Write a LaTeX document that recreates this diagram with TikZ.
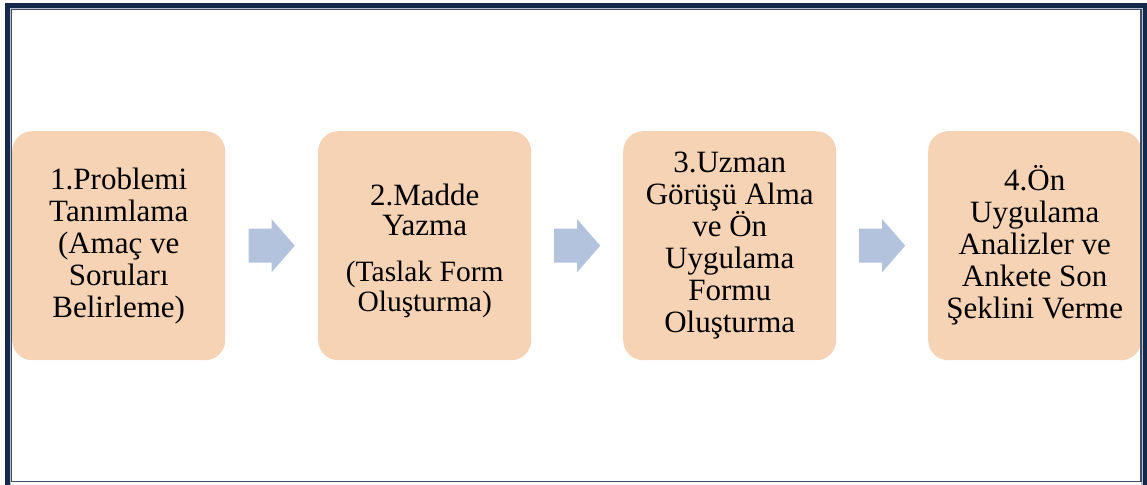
\documentclass[tikz,border=0pt]{standalone}
\usepackage{fontspec}
\setmainfont{Liberation Serif}
\usetikzlibrary{calc}
\definecolor{boxfill}{HTML}{F5D3B4}
\definecolor{arrfill}{HTML}{B3C3DD}
\definecolor{navy}{HTML}{17294A}
\definecolor{navyline}{HTML}{3C4C66}
\definecolor{gapgray}{HTML}{B9C0CA}
\tikzset{
  stepbox/.style={fill=boxfill, rounded corners=20pt, minimum width=213pt, minimum height=229pt,
    inner sep=0pt, align=center, font=\fontsize{31}{32}\selectfont, anchor=north west},
  steptext/.style={inner sep=0pt, align=center, font=\fontsize{31}{32}\selectfont},
  flowarrow/.style={fill=arrfill}
}
\begin{document}
\begin{tikzpicture}[x=1pt,y=-1pt]
\useasboundingbox (0,0) rectangle (1147,484);
% boxes
\node[stepbox] (b1) at (12,131) {1.Problemi\\Tanımlama\\(Amaç ve\\Soruları\\Belirleme)};
\node[stepbox] (b2) at (318,131) {};
\node[steptext] (b2t) at ($(b2.center)+(0,5)$) {2.Madde\\[-2pt]Yazma\\[14pt]{\fontsize{29.5}{30}\selectfont (Taslak Form}\\[-2pt]{\fontsize{29.5}{30}\selectfont Oluşturma)}};
\node[stepbox] (b3) at (623,131) {3.Uzman\\Görüşü Alma\\ve Ön\\Uygulama\\Formu\\Oluşturma};
\node[stepbox] (b4) at (928,131) {4.Ön\\Uygulama\\Analizler ve\\Ankete Son\\Şeklini Verme};
% arrows
\foreach \a/\b/\n in {b1/b2/m1, b2/b3/m2, b3/b4/m3}{
  \path (\a.east) -- (\b.west) coordinate[midway] (\n);
  \fill[flowarrow] ($(\n)+(-23,-17)$) -- ($(\n)+(0,-17)$) -- ($(\n)+(0,-26.5)$) -- ($(\n)+(23,0)$)
     -- ($(\n)+(0,26.5)$) -- ($(\n)+(0,17)$) -- ($(\n)+(-23,17)$) -- cycle;
}
% frame
\draw[gapgray, line width=1.5pt] (10.5,8.5) rectangle (1142,490);
\draw[navy, line width=5pt] (7.5,5.5) rectangle (1145.5,495);
\draw[navyline, line width=1.3pt] (11.6,9.8) rectangle (1141,481.5);
\end{tikzpicture}
\end{document}
